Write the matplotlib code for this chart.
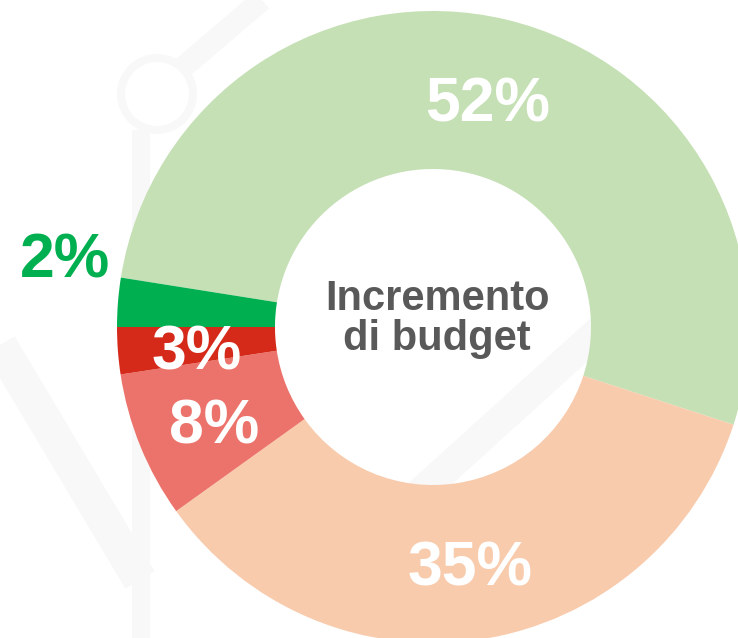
import matplotlib
matplotlib.use("Agg")
import matplotlib.pyplot as plt
from matplotlib.patches import Circle

# Data
categories = ["Forte aumento", "Lieve aumento", "Lieve calo", "Forte calo", "Altro"]
values = [52.5, 35.1, 7.5, 2.4, 2.5]
labels = ["52%", "35%", "8%", "3%", "2%"]
colors = ["#c5e0b4", "#f8cbad", "#ec736b", "#d52a1a", "#00b050"]
center_lines = ["Incremento", "di budget"]

W, H = 738, 638
fig = plt.figure(figsize=(W / 100, H / 100), dpi=100)
ax = fig.add_axes([0, 0, 1, 1])

# faint decorative background (watermark)
wm = "#f8f8f8"
px2pt = 0.72
def band(p0, p1, w):
    ax.plot([p0[0], p1[0]], [H - p0[1], H - p1[1]], color=wm,
            lw=w * px2pt, solid_capstyle="butt", zorder=0)
band((0, 345), (140, 580), 34)
band((141, 130), (141, 638), 18)
band((180, 70), (262, 0), 22)
band((600, 330), (390, 520), 30)
ax.add_patch(Circle((157, H - 94), 36, fill=False, ec=wm, lw=8 * px2pt, zorder=0))

cx, cy = 433, H - 327
R = 316
wedges, _ = ax.pie(values, colors=colors, startangle=171, counterclock=False,
                   center=(cx, cy), radius=R,
                   wedgeprops=dict(width=R * 0.5, linewidth=0, zorder=2))
ax.set_xlim(0, W)
ax.set_ylim(0, H)
ax.set_aspect("auto")
ax.axis("off")

font = ["Liberation Sans", "DejaVu Sans"]
label_pos = [(488, 121), (470, 586), (214, 443), (197, 370), (65, 277)]
label_colors = ["white", "white", "white", "white", "#00b050"]
for lab, (px, py), c in zip(labels, label_pos, label_colors):
    ax.text(px, H - py, lab, ha="center", va="baseline", fontsize=45,
            fontweight="bold", color=c, family=font, zorder=3)

for line, by in zip(center_lines, [310, 350]):
    ax.text(437, H - by, line, ha="center", va="baseline", fontsize=30,
            fontweight="bold", color="#595959", family=font, zorder=3)

fig.savefig("out.png", dpi=100)
